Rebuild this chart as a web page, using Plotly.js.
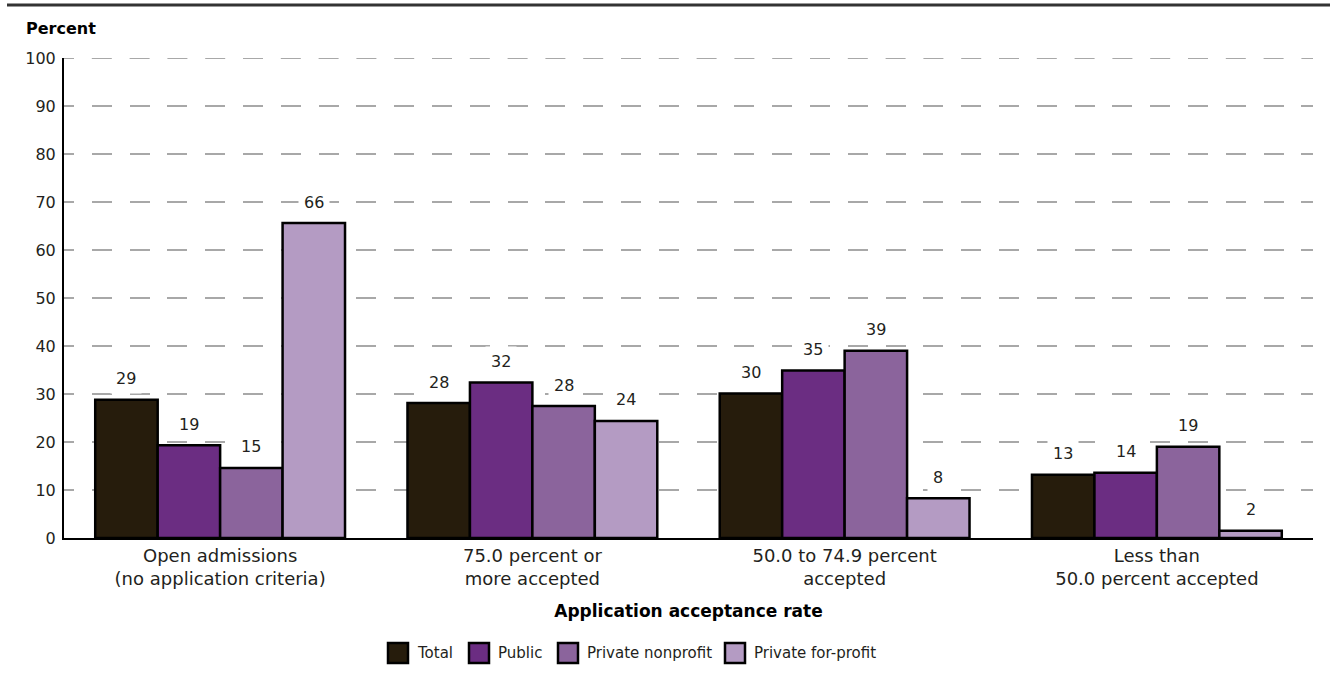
<!DOCTYPE html>
<html>
<head>
<meta charset="utf-8">
<script src="https://cdn.plot.ly/plotly-3.0.1.min.js"></script>
<style>
  html, body { margin: 0; padding: 0; background: #fff; }
  #chart { width: 1330px; height: 677px; }
</style>
</head>
<body>
<div id="chart"></div>
<script>
// ---- data ----
const categories = [
  "Open admissions<br>(no application criteria)",
  "75.0 percent or<br>more accepted",
  "50.0 to 74.9 percent<br>accepted",
  "Less than<br>50.0 percent accepted"
];
const seriesNames = ["Total", "Public", "Private nonprofit", "Private for-profit"];
const totalValues     = [28.8, 28.1, 30.1, 13.2];
const publicValues    = [19.3, 32.4, 34.9, 13.6];
const nonprofitValues = [14.6, 27.5, 39.0, 19.0];
const forprofitValues = [65.6, 24.4, 8.3, 1.5];
const totalLabels     = ["29", "28", "30", "13"];
const publicLabels    = ["19", "32", "35", "14"];
const nonprofitLabels = ["15", "28", "39", "19"];
const forprofitLabels = ["66", "24", "8", "2"];
const yTickVals = [0, 10, 20, 30, 40, 50, 60, 70, 80, 90, 100];

// ---- style ----
const colors = ["#261c0c", "#6b2d82", "#8b649c", "#b49bc3"];
const FONT = "DejaVu Sans, Arial, sans-serif";
const TXT = "#231f20";
const GRID = "#a8a8a8";
const GRIDDASH = "10px,17.8px,10px,0px";

// plot area in px: left 64, right 1313, top 58, bottom 538
const L = 64, R = 1313, T = 58, B = 538;
const px2x = px => (px - L) / (R - L);
const py2y = py => (B - py) / (B - T);

const allValues = [totalValues, publicValues, nonprofitValues, forprofitValues];
const allLabels = [totalLabels, publicLabels, nonprofitLabels, forprofitLabels];

const traces = allValues.map((vals, j) => ({
  type: "bar",
  name: seriesNames[j],
  x: categories,
  y: vals,
  marker: { color: colors[j], line: { color: "#000", width: 2.5 } },
  showlegend: false,
  hoverinfo: "x+y+name"
}));

const annotations = [];
allValues.forEach((vals, j) => {
  vals.forEach((v, i) => {
    annotations.push({
      x: i + (j - 1.5) * 0.2, y: v, xref: "x", yref: "y",
      text: allLabels[j][i], showarrow: false,
      yanchor: "middle", yshift: 21,
      font: { family: FONT, size: 16, color: TXT },
      bgcolor: "#fff", borderpad: 5
    });
  });
});

// "Percent" label
annotations.push({
  xref: "paper", yref: "paper", x: px2x(24), y: py2y(28),
  xanchor: "left", yanchor: "middle", showarrow: false,
  text: "<b>Percent</b>", font: { family: FONT, size: 16, color: "#000" }
});

// manual legend
const legendSquareX = [388, 469, 558, 725];
const legendY = 653;
const shapes = [];
legendSquareX.forEach((sx, j) => {
  shapes.push({
    type: "rect", xref: "paper", yref: "paper",
    x0: px2x(sx), x1: px2x(sx + 20), y0: py2y(legendY + 10), y1: py2y(legendY - 10),
    fillcolor: colors[j], line: { color: "#000", width: 2.5 }
  });
  annotations.push({
    xref: "paper", yref: "paper", x: px2x(sx + 27), y: py2y(legendY),
    xanchor: "left", yanchor: "middle", showarrow: false,
    text: seriesNames[j], font: { family: FONT, size: 15, color: TXT }
  });
});

// gridline at the top of the range (Plotly drops grid lines at the plot edge)
shapes.push({
  type: "line", xref: "paper", yref: "y", layer: "below",
  x0: 0, x1: 1, y0: yTickVals[yTickVals.length - 1], y1: yTickVals[yTickVals.length - 1],
  line: { color: GRID, width: 2, dash: GRIDDASH }
});

// top rule
shapes.push({
  type: "line", xref: "paper", yref: "paper",
  x0: px2x(7), x1: px2x(1330), y0: py2y(5), y1: py2y(5),
  line: { color: "#333", width: 3 }
});

const layout = {
  width: 1330, height: 677,
  margin: { l: L, r: 1330 - R, t: T, b: 677 - B, pad: 0 },
  paper_bgcolor: "#fff", plot_bgcolor: "#fff",
  barmode: "group", bargap: 0.2, bargroupgap: 0,
  font: { family: FONT, color: TXT },
  xaxis: {
    type: "category",
    showline: true, linecolor: "#000", linewidth: 2,
    showgrid: false, ticks: "", zeroline: false,
    tickfont: { family: FONT, size: 18, color: TXT },
    title: { text: "<b>Application acceptance rate</b>", font: { family: FONT, size: 17, color: "#000" }, standoff: 17 },
    automargin: false, fixedrange: true
  },
  yaxis: {
    range: [0, 100], tickvals: yTickVals,
    showline: true, linecolor: "#000", linewidth: 2,
    showgrid: true, gridcolor: GRID, gridwidth: 2,
    griddash: GRIDDASH,
    zeroline: false, ticks: "", ticklabelstandoff: 3,
    tickfont: { family: FONT, size: 16, color: TXT },
    automargin: false, fixedrange: true
  },
  annotations: annotations,
  shapes: shapes,
  showlegend: false
};

Plotly.newPlot("chart", traces, layout, { displayModeBar: false, staticPlot: true });
</script>
</body>
</html>
